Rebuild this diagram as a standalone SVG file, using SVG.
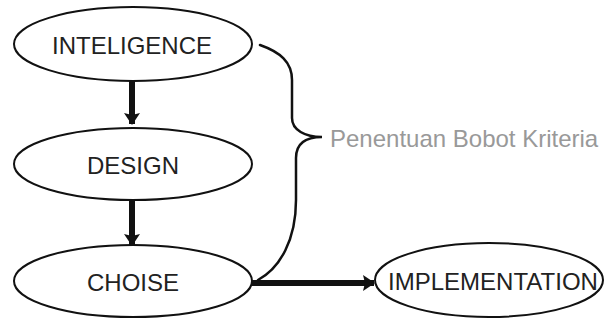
<svg xmlns="http://www.w3.org/2000/svg" width="605" height="320" viewBox="0 0 605 320">
  <style>
    .node ellipse { fill: #ffffff; stroke: #111111; stroke-width: 2; }
    .node text { font-family: "Liberation Sans", Arial, sans-serif; font-size: 24px; fill: #222222; text-anchor: middle; }
    .conn { stroke: #111111; stroke-width: 6; fill: none; }
    .brace { stroke: #111111; stroke-width: 2.5; fill: none; stroke-linecap: round; }
    .label { font-family: "Liberation Sans", Arial, sans-serif; font-size: 24px; fill: #999999; }
  </style>
  <defs>
    <marker id="head" viewBox="0 0 12 16" markerWidth="12" markerHeight="16" refX="11" refY="8" orient="auto" markerUnits="userSpaceOnUse">
      <path d="M0,0 L12,8 L0,16 L2,8 Z" fill="#111111"/>
    </marker>
  </defs>
  <rect width="605" height="320" fill="#ffffff"/>

  <g id="connectors">
    <line class="conn" x1="132" y1="81" x2="132" y2="124" marker-end="url(#head)"/>
    <line class="conn" x1="132" y1="200" x2="132" y2="245" marker-end="url(#head)"/>
    <line class="conn" x1="252" y1="283" x2="374" y2="283" stroke-width="5.5" marker-end="url(#head)"/>
    <path class="brace" d="M260,45 C280,52 292,62 292,80 L292,118 C292,130 305,137 322,137 C305,137 296,144 296,158 L296,200 C296,240 280,268 258,280"/>
  </g>

  <g id="inteligence" class="node">
    <ellipse cx="133" cy="44" rx="119" ry="37"/>
    <text x="132" y="54">INTELIGENCE</text>
  </g>
  <g id="design" class="node">
    <ellipse cx="133" cy="164" rx="119" ry="36"/>
    <text x="133" y="174">DESIGN</text>
  </g>
  <g id="choise" class="node">
    <ellipse cx="133" cy="281" rx="119" ry="36"/>
    <text x="133" y="291">CHOISE</text>
  </g>
  <g id="implementation" class="node">
    <ellipse cx="489" cy="280" rx="114" ry="37"/>
    <text x="493" y="290">IMPLEMENTATION</text>
  </g>
  <g id="penentuan">
    <text class="label" x="330" y="147">Penentuan Bobot Kriteria</text>
  </g>
</svg>
